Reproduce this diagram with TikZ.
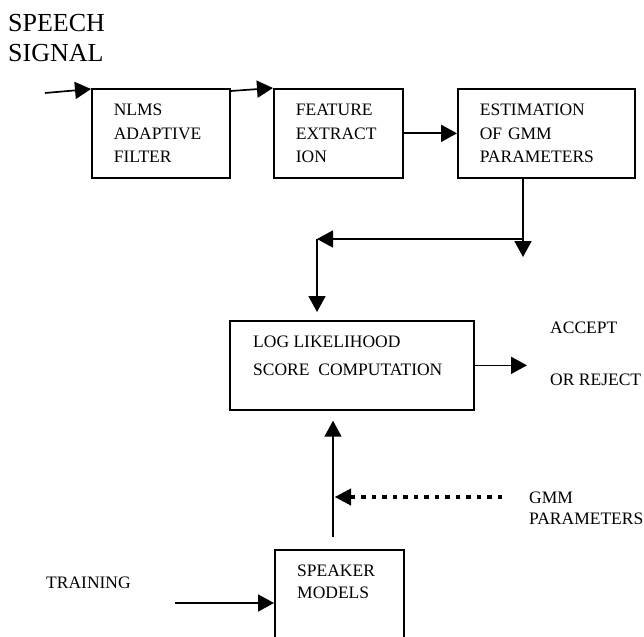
\documentclass[tikz,border=0pt]{standalone}
\usepackage{fontspec}
\setmainfont{Liberation Serif}
\usetikzlibrary{positioning, arrows.meta}

\begin{document}
\begin{tikzpicture}[
x=1pt, y=-1pt,
    block/.style={draw, rectangle, line width=1.7pt, anchor=north west, align=left, inner xsep=22pt, inner ysep=0pt, minimum height=89pt, font=\fontsize{17.5}{23.5}\selectfont},
    plain/.style={inner sep=0pt, align=left, font=\fontsize{17.5}{21}\selectfont},
    line/.style={draw, line width=1.7pt, -{Triangle[length=16pt, width=17pt]}},
    dotline/.style={draw, line width=4.5pt, dash pattern=on 4.5pt off 6pt, -{Triangle[length=16pt, width=17pt, line width=0.5pt]}}
]
    \useasboundingbox (0, 0) rectangle (644, 636);
    \clip (0, 0) rectangle (644, 636);

    % --- Input: speech signal ---
    \node[anchor=north west, inner sep=0pt, align=left, font=\fontsize{26}{30}\selectfont] (speech) at (8, 14) {SPEECH\\SIGNAL};
    \coordinate (sig_in) at (45, 93);

    % --- Top row: processing chain ---
    \node[block, text width=94pt] (nlms) at (91, 88) {NLMS\\ADAPTIVE\\FILTER};
    \node[block, text width=85pt] (feat) at (273, 88) {FEATURE\\EXTRACT\\ION};
    \node[block, text width=133pt] (est) at (457, 88) {ESTIMATION\\OF GMM\\PARAMETERS};
    \draw[line] (sig_in) -- ([yshift=-1pt]nlms.north west);
    \draw[line] ([yshift=-3pt]nlms.north east) -- (feat.north west);
    \draw[line] (feat) -- (est);

    % --- Back down to the scoring block ---
    \coordinate (drop) at (523, 257);
    \coordinate (turn) at (523, 239);
    \coordinate (bend) at (317, 239);
    \draw[line] (est.south -| drop) -- (drop);
    \draw[line] (turn) -- (bend);

    % --- Log likelihood scoring ---
    \node[block, text width=200pt] (lls) at (229, 320) {};
    \node[plain, font=\fontsize{17.5}{28}\selectfont, below right=16pt and 24pt of lls.north west] (lls_txt) {LOG LIKELIHOOD\\SCORE\ \ COMPUTATION};
    \draw[line] (bend) -- ([yshift=8pt]lls.north -| bend);
    \coordinate (result) at (527, 367);
    \draw[line] (lls.east) -- (lls.east -| result);
    \node[plain, font=\fontsize{17.5}{52}\selectfont, anchor=north west] (decision) at (550, 322) {ACCEPT\\OR REJECT};

    % --- Speaker models ---
    \node[block, text width=85pt, minimum height=108pt] (spk) at (274, 549) {};
    \node[plain, font=\fontsize{17.5}{22}\selectfont, below right=16pt and 23pt of spk.north west] (spk_txt) {SPEAKER\\MODELS};
    \coordinate (feed) at (333, 497);
    \draw[line] ([yshift=12pt]spk.north -| feed) -- ([yshift=-10pt]lls.south -| feed);
    \coordinate (gmm_end) at (502, 497);
    \draw[dotline] (gmm_end) -- ([xshift=2pt]feed);
    \node[plain, anchor=north west] (gmm) at (529, 492) {GMM\\PARAMETERS};

    % --- Training input ---
    \node[plain, anchor=west] (train) at (46, 583) {TRAINING};
    \coordinate (train_in) at (175, 603);
    \draw[line] (train_in) -- (train_in -| spk.west);

\end{tikzpicture}
\end{document}
